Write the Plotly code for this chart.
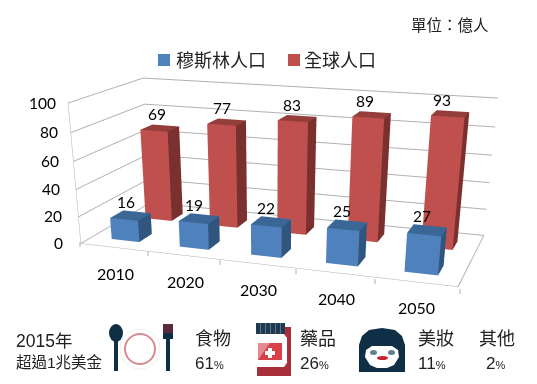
import plotly.graph_objects as go

W, H = 537, 800   # the window shows the top 384 px; the taller page gives the long-lens view of the 3D scene
years = ["2010", "2020", "2030", "2040", "2050"]
muslim = [16, 19, 22, 25, 27]
world = [69, 77, 83, 89, 93]
z_ticks = [0, 20, 40, 60, 80, 100]
series_names = ["穆斯林人口", "全球人口"]
front_colors = ["#4F81BD", "#C0504D"]
top_colors = ["#3B6797", "#943E3B"]
side_colors = ["#30557F", "#7A302E"]
grid_color = "#B0B0B0"
CJK = "Liberation Sans, Noto Sans CJK TC"
NUM = "Lato, Noto Sans CJK TC"
n = len(years)

BAR_X, BAR_Y = 0.206, 0.181
ycent = [0.476, 1.456]

fig = go.Figure()


def bar(cx, cy, v, cols):
    x0, x1, y0, y1 = cx - BAR_X, cx + BAR_X, cy - BAR_Y, cy + BAR_Y
    xs = [x0, x1, x1, x0, x0, x1, x1, x0]
    ys = [y0, y0, y1, y1, y0, y0, y1, y1]
    zs = [0, 0, 0, 0, v, v, v, v]
    i = [0, 0, 1, 1, 4, 4, 3, 3, 3, 3, 0, 0]
    j = [1, 5, 2, 6, 5, 6, 2, 6, 0, 4, 1, 2]
    k = [5, 4, 6, 5, 6, 7, 6, 7, 4, 7, 2, 3]
    fc = [cols[0]] * 2 + [cols[2]] * 2 + [cols[1]] * 2 + [cols[0]] * 6
    return go.Mesh3d(x=xs, y=ys, z=zs, i=i, j=j, k=k, facecolor=fc, flatshading=True,
                     lighting=dict(ambient=1, diffuse=0, specular=0, fresnel=0),
                     hoverinfo="skip", showlegend=False)


for s, vals in enumerate([muslim, world]):
    for c, v in enumerate(vals):
        fig.add_trace(bar(c + 0.5, ycent[s], v, [front_colors[s], top_colors[s], side_colors[s]]))

edge = dict(color=grid_color, width=2)
fig.add_trace(go.Scatter3d(x=[n, n], y=[0, 2], z=[0, 0], mode="lines", line=edge,
                           hoverinfo="skip", showlegend=False))

ann = []
for s, vals in enumerate([muslim, world]):
    for c, v in enumerate(vals):
        ann.append(dict(x=c + 0.5, y=ycent[s], z=v, text=str(v), showarrow=False, yshift=14,
                        xshift=-5 if s == 0 else -3 - 1.25 * c,
                        font=dict(family=NUM, size=15.5, color="#000")))
for c, y in enumerate(years):
    ann.append(dict(x=c + 0.5, y=0, z=0, text=y, showarrow=False, yshift=-26, xshift=1,
                    font=dict(family=NUM, size=16, color="#000")))
for t in z_ticks:
    ann.append(dict(x=0, y=0, z=t, text=str(t), showarrow=False, xanchor="right", xshift=-16 + 0.06 * t,
                    yshift=0.5, font=dict(family=NUM, size=15.5, color="#000")))

base = dict(zeroline=False, showticklabels=False, title="", showspikes=False, showbackground=False)


def px(x):
    return x / W


def py(y):
    return 1 - y / H


shapes = []


def rect(x0, y0, x1, y1, color):
    shapes.append(dict(type="rect", xref="paper", yref="paper", x0=px(x0), x1=px(x1), y0=py(y0), y1=py(y1),
                       fillcolor=color, line=dict(width=0)))


def ell(x0, y0, x1, y1, fill, line=None, lw=0):
    shapes.append(dict(type="circle", xref="paper", yref="paper", x0=px(x0), x1=px(x1), y0=py(y0), y1=py(y1),
                       fillcolor=fill, line=dict(width=lw, color=line or fill)))


def path(pts, fill):
    d = "M" + " L".join(f"{px(a):.4f},{py(b):.4f}" for a, b in pts) + " Z"
    shapes.append(dict(type="path", xref="paper", yref="paper", path=d, fillcolor=fill, line=dict(width=0)))


DARK = "#0F2F47"
# small tick marks below the front floor edge
for tx, ty in [(80, 242), (148, 251), (220, 260), (296, 269), (375, 279), (460, 289)]:
    shapes.append(dict(type="line", xref="paper", yref="paper", x0=px(tx), x1=px(tx), y0=py(ty), y1=py(ty + 5),
                       line=dict(color=grid_color, width=1)))
# legend swatches
rect(158, 54, 170, 66, front_colors[0])
rect(288, 54, 300, 66, front_colors[1])
# spoon, plate, fork
ell(109, 324, 123, 342, DARK)
rect(114, 340, 118, 371, DARK)
ell(120, 329, 160, 369, "rgba(0,0,0,0)", "#EEEEEE", 1)
ell(125, 334, 155, 364, "rgba(0,0,0,0)", "#D98A90", 2)
rect(163, 324, 173, 333, "#5B2A3C")
rect(163, 333, 173, 339, DARK)
rect(166, 339, 170, 371, DARK)
# bottle
rect(257, 327, 291, 376, "#A62F3B")
path([(257, 334), (284, 334), (287, 338), (287, 363), (284, 367), (257, 367), (254, 363), (254, 338)], "#FFFFFF")
rect(256, 323, 285, 334, "#1E3A50")
for sx in (260, 265, 270, 275, 280):
    rect(sx, 323, sx + 1, 334, "#5A7285")
rect(258, 343, 282, 360, "#D8404A")
path([(258, 343), (270, 343), (258, 360)], "#E58A90")
rect(265, 351, 275, 355, "#FFFFFF")
rect(268, 348, 272, 358, "#FFFFFF")
# face
path([(359, 372), (359, 345), (362, 336), (369, 330), (382, 328), (395, 330), (402, 336), (405, 345), (405, 372)], DARK)
path([(365, 357), (366, 350), (372, 346), (392, 346), (398, 350), (399, 357), (394, 365), (387, 368), (377, 368), (370, 365)], "#FFFFFF")
ell(370, 350, 377, 355, "#5E7F90")
ell(388, 350, 395, 355, "#5E7F90")
ell(377, 356, 388, 360, "#C8202C")


def T(x, y, s, size, anchor="left", color="#222", fam=CJK):
    return dict(xref="paper", yref="paper", x=px(x), y=py(y), text=s, showarrow=False, xanchor=anchor,
                yanchor="middle", font=dict(size=size, color=color, family=fam))


def pct(v):
    return f'{v}<span style="font-size:11px">%</span>'


paper_ann = [
    T(409, 26, "單位：億人", 15.5), T(174, 60.5, series_names[0], 18), T(302, 60.5, series_names[1], 18),
    T(14, 341, "2015年", 17.5), T(14, 362, "超過1兆美金", 15.5),
    T(193, 339, "食物", 18), T(193, 363, pct(61), 17),
    T(298, 339, "藥品", 18), T(298, 363, pct(26), 17),
    T(416, 339, "美妝", 18), T(416, 363, pct(11), 17),
    T(477, 339, "其他", 18), T(484, 363, pct(2), 17),
]

fig.update_layout(
    width=W, height=H, margin=dict(l=0, r=0, t=0, b=0), paper_bgcolor="white", showlegend=False,
    font=dict(family=CJK, color="#222"), shapes=shapes, annotations=paper_ann,
    scene=dict(
        domain=dict(x=[0, 1], y=[0, 1]),
        xaxis=dict(range=[0, n], showgrid=False, showline=True, linecolor=grid_color, ticks="", **base),
        yaxis=dict(range=[0, 2], showgrid=False, ticks="", **base),
        zaxis=dict(range=[0, 100], tickvals=z_ticks, showgrid=True, gridcolor=grid_color, showline=True,
                   linecolor=grid_color, ticks="", **base),
        aspectmode="manual", aspectratio=dict(x=1.6, y=0.681, z=0.579),
        camera=dict(eye=dict(x=1.260, y=-3.816, z=0.972), center=dict(x=-0.067, y=-0.021, z=-1.065),
                    up=dict(x=-0.005, y=0, z=1), projection=dict(type="perspective")),
        annotations=ann,
    ),
)
fig.write_html("out.html", config=dict(displayModeBar=False),
               post_script="document.body.style.margin='0';document.documentElement.style.overflow='hidden';document.body.style.overflow='hidden';")
